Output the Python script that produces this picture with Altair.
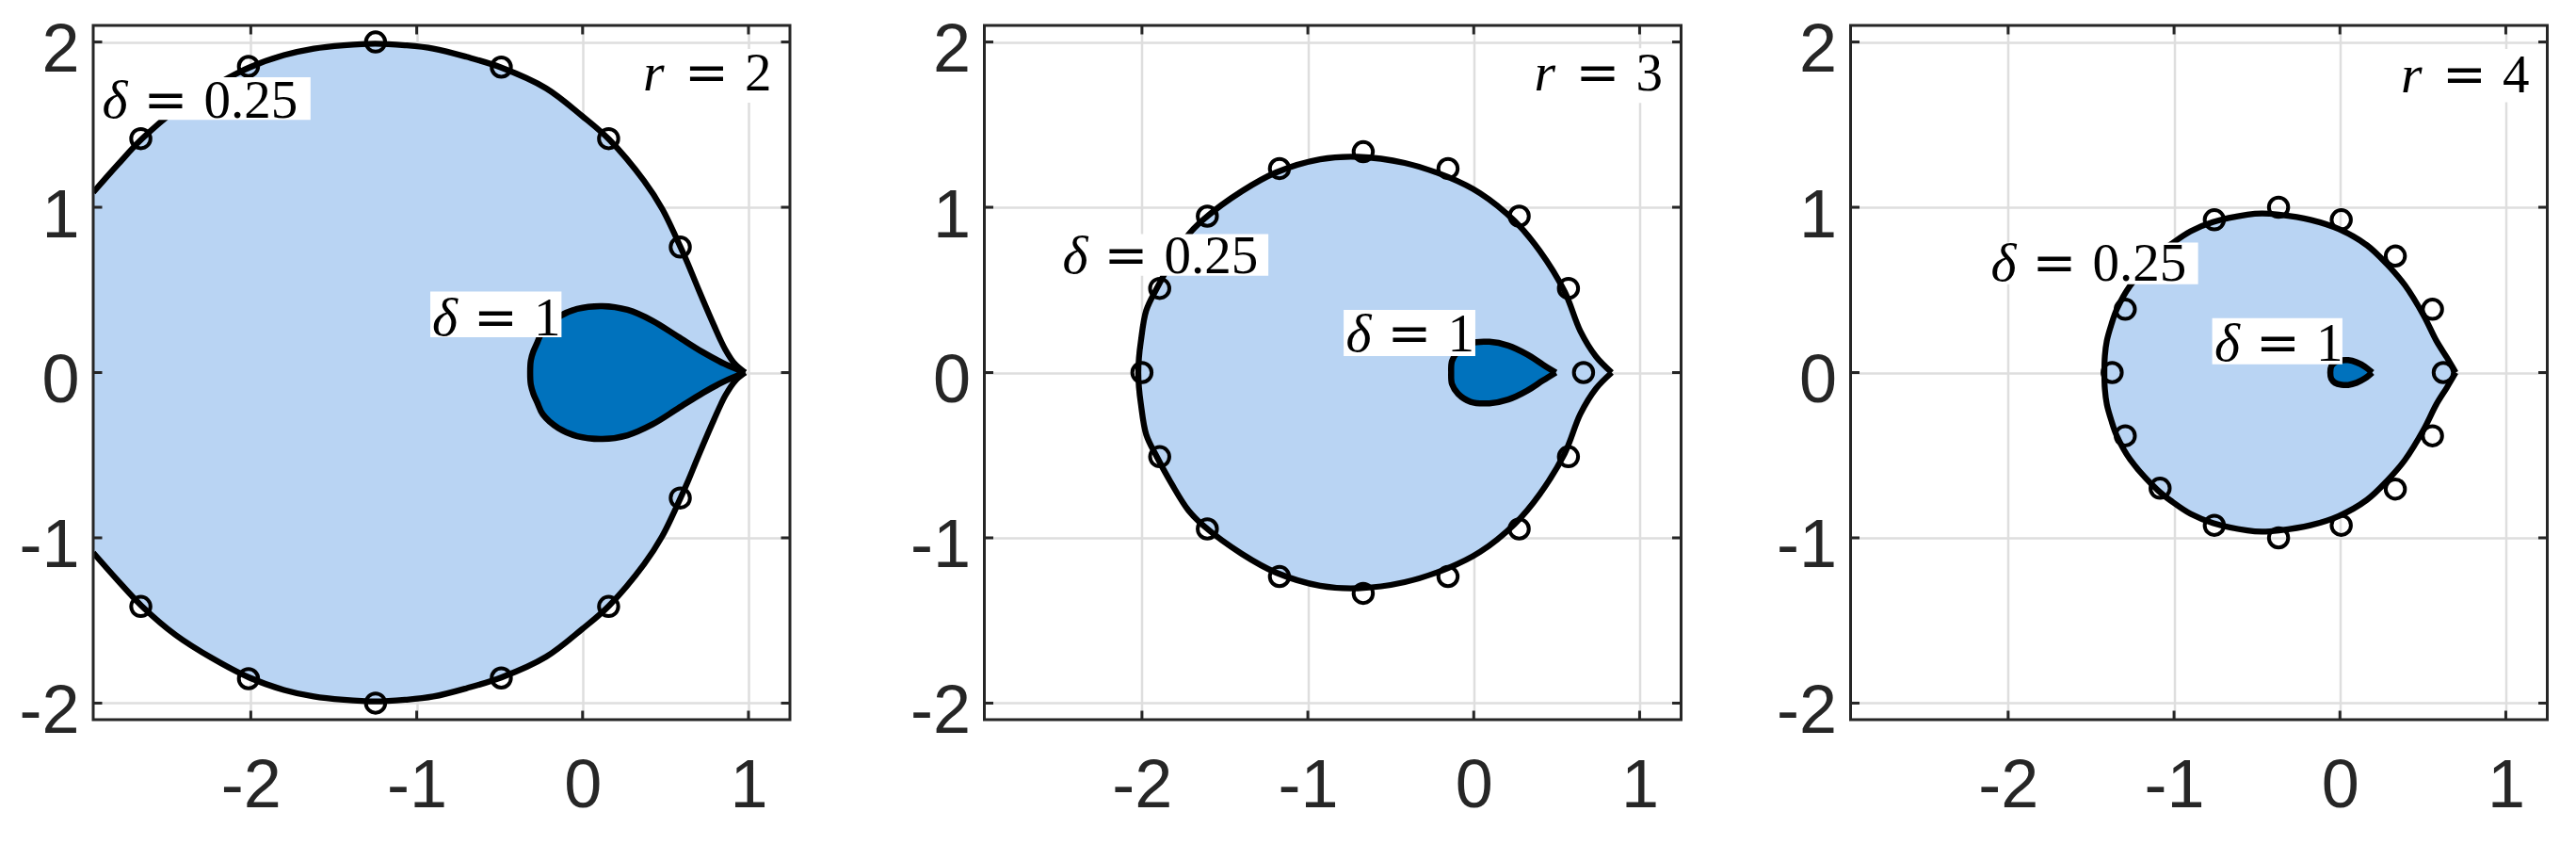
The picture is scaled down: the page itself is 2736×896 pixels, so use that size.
import altair as alt
import pandas as pd

# ---------------- axes ----------------
XDOM = [-2.95, 1.25]
YDOM = [-2.1, 2.1]
X_TICKS = [-2, -1, 0, 1]
Y_TICKS = [-2, -1, 0, 1, 2]

LIGHT = "#B9D4F3"
DARK = "#0072BD"
AXC = "#262626"

# ---------------- panel r = 2 (upper halves; shapes are symmetric) ----------------
p1_outer_x = [-2.95, -2.80, -2.66, -2.45, -2.23, -2.01, -1.80, -1.62, -1.44, -1.25, -1.07, -0.90,
              -0.70, -0.49, -0.22, 0.00, 0.16, 0.37, 0.48, 0.59, 0.63, 0.70, 0.79, 0.86, 0.92, 0.98]
p1_outer_y = [1.09, 1.26, 1.41, 1.59, 1.73, 1.845, 1.92, 1.96, 1.98, 1.99, 1.98, 1.96,
              1.91, 1.845, 1.72, 1.55, 1.41, 1.16, 0.99, 0.76, 0.67, 0.50, 0.29, 0.14, 0.05, 0.0]
p1_tear_x = [-0.316, -0.312, -0.297, -0.273, -0.24, -0.146, -0.032, 0.119, 0.271, 0.422, 0.574,
             0.725, 0.857, 0.98]
p1_tear_y = [0.0, 0.073, 0.127, 0.182, 0.252, 0.336, 0.385, 0.402, 0.379, 0.313, 0.218,
             0.123, 0.052, 0.0]
p1_mark_x = [-2.663, -2.014, -1.248, -0.49, 0.157, 0.589]
p1_mark_y = [1.415, 1.852, 2.0, 1.848, 1.415, 0.759]

# ---------------- panel r = 3 ----------------
p2_outer_x = [-2.022, -2.018, -2.007, -1.974, -1.91, -1.82, -1.719, -1.625, -1.398, -1.19, -0.926,
              -0.70, -0.416, -0.155, 0.038, 0.246, 0.397, 0.548, 0.643, 0.737, 0.832]
p2_outer_y = [0.0, 0.09, 0.186, 0.376, 0.51, 0.675, 0.835, 0.93, 1.097, 1.211, 1.29,
              1.305, 1.268, 1.183, 1.085, 0.917, 0.737, 0.49, 0.25, 0.097, 0.0]
p2_tear_x = [-0.136, -0.131, -0.094, -0.019, 0.095, 0.208, 0.321, 0.416, 0.495]
p2_tear_y = [0.0, 0.07, 0.129, 0.177, 0.186, 0.163, 0.110, 0.049, 0.0]
p2_mark_x = [-2.0, -1.893, -1.606, -1.171, -0.666, -0.155, 0.274, 0.571, 0.662]
p2_mark_y = [0.0, 0.509, 0.946, 1.234, 1.336, 1.234, 0.946, 0.509, 0.0]

# ---------------- panel r = 4 ----------------
p3_outer_x = [-1.42, -1.417, -1.405, -1.378, -1.345, -1.265, -1.10, -1.013, -0.90, -0.766, -0.558,
              -0.47, -0.368, -0.178, -0.007, 0.163, 0.287, 0.391, 0.505, 0.581, 0.645, 0.698]
p3_outer_y = [0.0, 0.10, 0.193, 0.29, 0.383, 0.525, 0.71, 0.78, 0.855, 0.91, 0.955,
              0.962, 0.955, 0.924, 0.868, 0.77, 0.652, 0.53, 0.345, 0.193, 0.09, 0.0]
p3_tear_x = [-0.058, -0.052, -0.03, 0.01, 0.05, 0.10, 0.15, 0.195]
p3_tear_y = [0.0, 0.038, 0.062, 0.074, 0.075, 0.062, 0.036, 0.0]
p3_mark_x = [-1.373, -1.294, -1.084, -0.757, -0.37, 0.008, 0.334, 0.558, 0.623]
p3_mark_y = [0.0, 0.383, 0.70, 0.924, 1.0, 0.924, 0.705, 0.383, 0.0]

# ---------------- annotations (left x, baseline y) ----------------
p1_lab_x = [-2.896, -0.907, 0.365]
p1_lab_y = [1.539, 0.227, 1.706]
p2_lab_x = [-2.479, -0.771, 0.365]
p2_lab_y = [0.604, 0.129, 1.707]
p3_lab_x = [-2.104, -0.757, 0.368]
p3_lab_y = [0.553, 0.069, 1.696]
lab_sym = ["δ", "δ", "r"]
p1_lab_num = ["0.25", "1", "2"]
p2_lab_num = ["0.25", "1", "3"]
p3_lab_num = ["0.25", "1", "4"]

# white label boxes: x0, x1, y0, y1
p1_box_x0 = [-2.93, -0.918, 0.33]
p1_box_x1 = [-1.64, -0.127, 1.165]
p1_box_y0 = [1.529, 0.214, 1.633]
p1_box_y1 = [1.786, 0.490, 1.957]
p2_box_x0 = [-2.513, -0.784, 0.328]
p2_box_x1 = [-1.238, 0.0096, 1.166]
p2_box_y0 = [0.585, 0.100, 1.631]
p2_box_y1 = [0.838, 0.379, 1.962]
p3_box_x0 = [-2.117, -0.770, 0.334]
p3_box_x1 = [-0.855, 0.015, 1.176]
p3_box_y0 = [0.534, 0.050, 1.635]
p3_box_y1 = [0.787, 0.329, 1.958]

W, H = 740, 737
TICK = 9.5

xs = alt.Scale(domain=XDOM, nice=False, zero=False)
ys = alt.Scale(domain=YDOM, nice=False, zero=False)
LBL = "'' + datum.value"
xaxis = alt.Axis(values=X_TICKS, title=None, labelFontSize=72, labelFont="Liberation Sans",
                 labelColor=AXC, ticks=False, tickSize=0, domain=False, grid=True,
                 gridColor="#DEDEDE", gridWidth=2.5, labelPadding=35, labelFlush=False,
                 labelOverlap=False, labelExpr=LBL)
yaxis = alt.Axis(values=Y_TICKS, title=None, labelFontSize=72, labelFont="Liberation Sans",
                 labelColor=AXC, ticks=False, tickSize=0, domain=False, grid=True,
                 gridColor="#DEDEDE", gridWidth=2.5, labelPadding=15, labelOffset=9,
                 labelFlush=False, labelOverlap=False, labelExpr=LBL)


def X(f):
    return alt.X(f, scale=xs, axis=xaxis)


def Y(f):
    return alt.Y(f, scale=ys, axis=yaxis)


def open_branches(xv, yv):
    rows = []
    for i, (a, b) in enumerate(zip(xv, yv)):
        rows.append({"x": a, "y": b, "b": "up", "o": i})
        rows.append({"x": a, "y": -b, "b": "lo", "o": i})
    return pd.DataFrame(rows)


def closed_path(xv, yv):
    # from the right tip along the upper half to the leftmost point, back along the lower half
    rows = []
    n = len(xv)
    k = 0
    for i in range(n - 1, -1, -1):
        rows.append({"x": xv[i], "y": yv[i], "b": "c", "o": k})
        k += 1
    for i in range(1, n):
        rows.append({"x": xv[i], "y": -yv[i], "b": "c", "o": k})
        k += 1
    return pd.DataFrame(rows)


def panel(ox, oy, tx, ty, mx, my, lx, ly, lnum, bx0, bx1, by0, by1, outer_open):
    outer = pd.DataFrame({"x": ox, "y": oy, "yn": [-v for v in oy]})
    tear = pd.DataFrame({"x": tx, "y": ty, "yn": [-v for v in ty]})
    mrows = []
    for a, b in zip(mx, my):
        mrows.append({"x": a, "y": b})
        if b > 0:
            mrows.append({"x": a, "y": -b})
    marks = pd.DataFrame(mrows)
    labs = pd.DataFrame({"x": lx, "y": ly, "sym": lab_sym, "num": lnum})
    boxes = pd.DataFrame({"x0": bx0, "x1": bx1, "y0": by0, "y1": by1})
    xt = pd.DataFrame({"t": X_TICKS})
    yt = pd.DataFrame({"t": Y_TICKS})
    one = pd.DataFrame({"k": [0]})
    outline = open_branches(ox, oy) if outer_open else closed_path(ox, oy)

    layers = [
        alt.Chart(outer).mark_area(color=LIGHT, interpolate="monotone", clip=True, opacity=1)
        .encode(x=X("x:Q"), y=Y("y:Q"), y2="yn:Q"),
        alt.Chart(tear).mark_area(color=DARK, interpolate="monotone", clip=True, opacity=1)
        .encode(x=X("x:Q"), y=Y("y:Q"), y2="yn:Q"),
        alt.Chart(outline).mark_line(color="black", strokeWidth=6.3,
                                     interpolate="catmull-rom", clip=True)
        .encode(x=X("x:Q"), y=Y("y:Q"), detail="b:N", order="o:Q"),
        alt.Chart(closed_path(tx, ty)).mark_line(color="black", strokeWidth=6.5,
                                                 interpolate="catmull-rom", clip=True)
        .encode(x=X("x:Q"), y=Y("y:Q"), detail="b:N", order="o:Q"),
        alt.Chart(marks).mark_point(shape="circle", filled=False, color="black",
                                    strokeWidth=4, size=420, opacity=1, clip=True)
        .encode(x=X("x:Q"), y=Y("y:Q")),
        alt.Chart(boxes).mark_rect(color="white", opacity=1)
        .encode(x=X("x0:Q"), x2="x1:Q", y=Y("y0:Q"), y2="y1:Q"),
        alt.Chart(labs).mark_text(align="left", baseline="alphabetic", font="Liberation Serif",
                                  fontStyle="italic", fontSize=58, color="black")
        .encode(x=X("x:Q"), y=Y("y:Q"), text="sym:N"),
        alt.Chart(labs).mark_text(align="left", baseline="alphabetic", font="DejaVu Serif",
                                  fontSize=56, color="black", dx=44, text="=")
        .encode(x=X("x:Q"), y=Y("y:Q")),
        alt.Chart(labs).mark_text(align="left", baseline="alphabetic", font="Liberation Serif",
                                  fontSize=57, color="black", dx=108)
        .encode(x=X("x:Q"), y=Y("y:Q"), text="num:N"),
        # inward ticks on all four sides
        alt.Chart(xt).mark_rule(color=AXC, strokeWidth=3)
        .encode(x=X("t:Q"), y=alt.value(0), y2=alt.value(TICK)),
        alt.Chart(xt).mark_rule(color=AXC, strokeWidth=3)
        .encode(x=X("t:Q"), y=alt.value(H), y2=alt.value(H - TICK)),
        alt.Chart(yt).mark_rule(color=AXC, strokeWidth=3)
        .encode(y=Y("t:Q"), x=alt.value(0), x2=alt.value(TICK)),
        alt.Chart(yt).mark_rule(color=AXC, strokeWidth=3)
        .encode(y=Y("t:Q"), x=alt.value(W), x2=alt.value(W - TICK)),
        # box frame
        alt.Chart(one).mark_rect(filled=False, stroke=AXC, strokeWidth=3, fillOpacity=0)
        .encode(x=alt.value(0), x2=alt.value(W), y=alt.value(0), y2=alt.value(H)),
    ]
    return alt.layer(*layers).properties(width=W, height=H)


p1 = panel(p1_outer_x, p1_outer_y, p1_tear_x, p1_tear_y, p1_mark_x, p1_mark_y,
           p1_lab_x, p1_lab_y, p1_lab_num, p1_box_x0, p1_box_x1, p1_box_y0, p1_box_y1, True)
p2 = panel(p2_outer_x, p2_outer_y, p2_tear_x, p2_tear_y, p2_mark_x, p2_mark_y,
           p2_lab_x, p2_lab_y, p2_lab_num, p2_box_x0, p2_box_x1, p2_box_y0, p2_box_y1, False)
p3 = panel(p3_outer_x, p3_outer_y, p3_tear_x, p3_tear_y, p3_mark_x, p3_mark_y,
           p3_lab_x, p3_lab_y, p3_lab_num, p3_box_x0, p3_box_x1, p3_box_y0, p3_box_y1, False)

inner = alt.hconcat(p1, p2, spacing=124.5)
chart = (
    alt.hconcat(inner, p3, spacing=97.5)
    .properties(padding={"left": 11, "top": 9, "right": 5, "bottom": 5})
    .configure_view(strokeOpacity=0)
    .configure(background="white")
)

chart.save("out.html", embed_options={"renderer": "svg", "actions": False})
